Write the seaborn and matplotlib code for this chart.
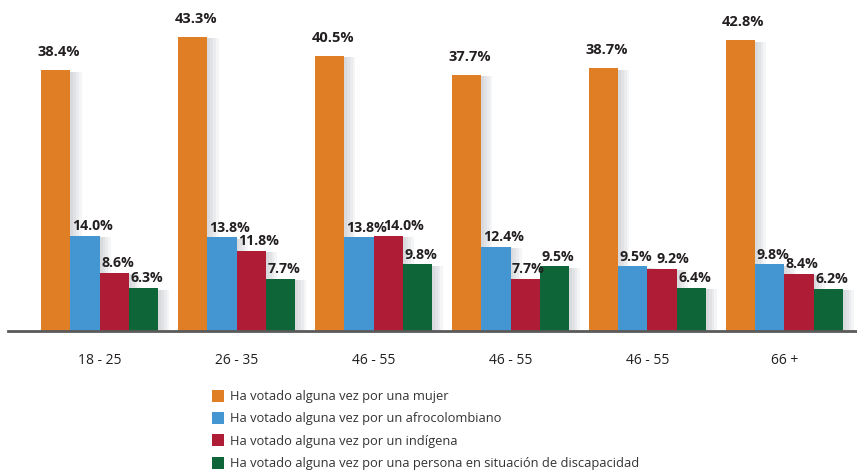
import pandas as pd
import matplotlib
matplotlib.use("Agg")
import matplotlib.pyplot as plt
import matplotlib.patheffects as pe
from matplotlib.lines import Line2D
import seaborn as sns

# Data
groups = ["18 - 25", "26 - 35", "46 - 55", "46 - 55", "46 - 55", "66 +"]
series = [
    "Ha votado alguna vez por una mujer",
    "Ha votado alguna vez por un afrocolombiano",
    "Ha votado alguna vez por un indígena",
    "Ha votado alguna vez por una persona en situación de discapacidad",
]
mujer = [38.4, 43.3, 40.5, 37.7, 38.7, 42.8]
afro = [14.0, 13.8, 13.8, 12.4, 9.5, 9.8]
indigena = [8.6, 11.8, 14.0, 7.7, 9.2, 8.4]
discapacidad = [6.3, 7.7, 9.8, 9.5, 6.4, 6.2]
colors = ["#E07E26", "#4396D2", "#AE1C35", "#0E6638"]

# Long-format table (group index keeps the repeated "46 - 55" labels separate)
rows = []
for name, vals in zip(series, [mujer, afro, indigena, discapacidad]):
    for i, v in enumerate(vals):
        rows.append({"grupo": i, "serie": name, "valor": v})
df = pd.DataFrame(rows)

sns.set_theme(style="white")
plt.rcParams['font.family'] = ['Open Sans', 'DejaVu Sans']

fig = plt.figure(figsize=(8.57, 4.71), dpi=100)
ax = fig.add_axes([8 / 857, 1 - 331 / 471, 1 - 8 / 857, 326 / 471])

sns.barplot(data=df, x="grupo", y="valor", hue="serie", hue_order=series,
            palette=colors, width=0.855, saturation=1, ax=ax, legend=False,
            linewidth=0)

# soft drop shadow to the right, built from a few faint layers
shadow = [pe.SimplePatchShadow(offset=(o, -1), shadow_rgbFace="#6f7580", alpha=0.07)
          for o in (8, 6, 4, 2)] + [pe.Normal()]

txt_color = "#231F20"
for k, cont in enumerate(ax.containers):
    for i, bar in enumerate(cont):
        bar.set_path_effects(shadow)
        h = bar.get_height()
        x0 = bar.get_x()
        w = bar.get_width()
        if k == 0:
            ax.text(x0 + w * 0.6, h + 1.6, f"{h:.1f}%", ha="center",
                    va="bottom", fontsize=10.5, fontweight="bold", color=txt_color)
        else:
            shift = 0.05
            # red label nudged right when it sits level with the blue one
            if k == 2 and abs(afro[i] - indigena[i]) < 1.0:
                shift = 0.32
            ax.text(x0 + w * shift, h + 0.4, f"{h:.1f}%", ha="left",
                    va="bottom", fontsize=10.2, fontweight="bold", color=txt_color)

ax.set_xlim(-0.67, 5.53)
ax.set_ylim(0, 48)
ax.set_xticks(range(len(groups)))
ax.set_xticklabels(groups, fontsize=10, color=txt_color)
ax.tick_params(axis="x", length=0, pad=16)
ax.set_yticks([])
ax.set_xlabel("")
ax.set_ylabel("")
for s in ["top", "right", "left"]:
    ax.spines[s].set_visible(False)
ax.spines["bottom"].set_color("#5a5a5a")
ax.spines["bottom"].set_linewidth(2)

handles = [Line2D([], [], marker="s", linestyle="", markersize=9,
                  markerfacecolor=c, markeredgewidth=0) for c in colors]
fig.legend(handles, series, loc="upper left", bbox_to_anchor=(205 / 857, 1 - 385 / 471),
           frameon=False, fontsize=9.3, handletextpad=0.3, labelspacing=0.72,
           handlelength=1.2, borderaxespad=0, labelcolor="#333333")

fig.savefig("out.png", dpi=100)
